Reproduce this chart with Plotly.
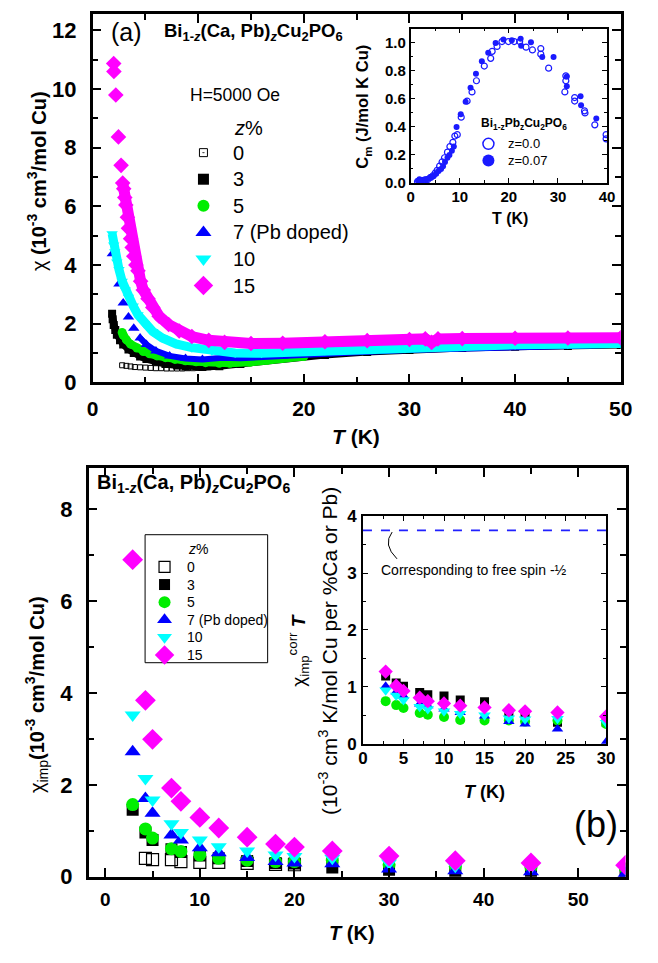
import plotly.graph_objects as go

FONT = "Liberation Sans"

# ---------------- Panel (a): chi(T), H = 5000 Oe ----------------
T_a0 = [2.8, 3.2, 3.6, 4.0, 4.5, 5.0, 5.5, 6.0, 6.5, 7.0, 7.5, 8.0, 8.5, 9.0, 9.5, 10.0, 10.5, 11.0, 11.5, 12.0]
chi_a0 = [0.58, 0.56, 0.54, 0.52, 0.51, 0.50, 0.49, 0.48, 0.48, 0.47, 0.47, 0.47, 0.47, 0.48, 0.48, 0.49, 0.50, 0.51, 0.53, 0.55]

T_a3 = [1.85, 1.9, 2.0, 2.15, 2.3, 2.6, 2.9, 3.4, 3.9, 4.5, 5.1, 6.0, 6.9, 8.0, 8.8, 10.4, 12.0, 14.0, 17.6, 22.0, 26.0, 30.0, 35.0, 40.0, 45.0, 50.0]
chi_a3 = [2.34, 2.15, 1.95, 1.78, 1.62, 1.43, 1.29, 1.12, 1.00, 0.88, 0.79, 0.70, 0.62, 0.57, 0.54, 0.52, 0.55, 0.62, 0.80, 0.93, 1.03, 1.10, 1.17, 1.21, 1.24, 1.27]

T_a5 = [2.8, 2.9, 3.2, 3.6, 4.2, 4.8, 5.4, 6.1, 6.9, 7.8, 8.8, 9.8, 10.7, 12.0, 13.0, 14.9, 16.5, 18.0, 20.0]
chi_a5 = [1.70, 1.60, 1.45, 1.30, 1.17, 1.05, 0.97, 0.90, 0.84, 0.78, 0.73, 0.70, 0.67, 0.65, 0.65, 0.68, 0.75, 0.83, 0.88]

T_a7 = [1.87, 2.5, 2.9, 3.4, 3.9, 4.5, 5.1, 6.0, 7.3, 8.8, 10.4, 12.3, 14.0, 18.0, 22.5, 26.0, 30.0, 32.0, 35.0, 40.0, 43.5, 50.0]
chi_a7 = [4.38, 3.35, 2.70, 2.23, 1.84, 1.51, 1.29, 1.07, 0.90, 0.81, 0.78, 0.84, 0.82, 0.90, 1.00, 1.04, 1.10, 1.12, 1.17, 1.21, 1.25, 1.28]

T_a10 = [1.85, 2.0, 2.1, 2.3, 2.5, 2.8, 3.1, 3.4, 3.85, 4.3, 4.9, 5.7, 6.6, 7.9, 9.4, 11.3, 13.5, 16.0, 18.0, 22.0, 26.0, 30.0, 32.0, 35.0, 40.0, 45.0, 50.0]
chi_a10 = [5.07, 4.68, 4.45, 4.10, 3.85, 3.45, 3.15, 2.90, 2.60, 2.30, 2.00, 1.73, 1.51, 1.31, 1.18, 1.07, 1.00, 0.99, 1.02, 1.08, 1.14, 1.20, 1.22, 1.25, 1.28, 1.30, 1.32]

T_a15 = [2.0, 2.02, 2.2, 2.45, 2.7, 2.85, 2.95, 3.05, 3.15, 3.3, 3.4, 3.6, 3.75, 3.9, 4.1, 4.3, 4.55, 4.8, 5.25, 5.7, 6.3, 7.2, 8.2, 9.4, 11.0, 12.5, 15.0, 18.0, 22.0, 26.0, 30.0, 31.5, 32.1, 32.7, 35.0, 40.0, 45.0, 50.0]
chi_a15 = [10.87, 10.6, 9.8, 8.37, 7.4, 6.8, 6.6, 6.3, 6.05, 5.63, 5.25, 4.9, 4.6, 4.3, 4.0, 3.8, 3.45, 3.15, 2.85, 2.55, 2.25, 1.97, 1.75, 1.56, 1.43, 1.36, 1.32, 1.33, 1.38, 1.42, 1.46, 1.48, 1.36, 1.48, 1.49, 1.50, 1.51, 1.52]

# ---------------- Inset (a): magnetic specific heat ----------------
T_c0 = [1.4, 2.0, 2.5, 2.8, 3.0, 3.5, 4.1, 4.5, 5.0, 5.4, 5.9, 6.4, 6.9, 7.5, 8.0, 8.6, 9.0, 9.5, 10.3, 11.5, 12.5, 13.4, 15.0, 16.3, 16.6, 17.6, 18.6, 19.9, 21.1, 22.2, 23.5, 24.8, 26.5, 26.5, 28.1, 31.6, 31.6, 31.4, 33.4, 33.4, 35.4, 35.5, 37.5, 39.8, 39.8]
C_c0 = [0.01, 0.01, 0.015, 0.02, 0.02, 0.025, 0.04, 0.05, 0.07, 0.09, 0.12, 0.15, 0.18, 0.22, 0.26, 0.29, 0.335, 0.345, 0.47, 0.585, 0.65, 0.73, 0.835, 0.89, 0.94, 0.975, 1.01, 1.01, 1.01, 1.01, 0.97, 0.95, 0.96, 0.92, 0.82, 0.765, 0.73, 0.65, 0.61, 0.585, 0.515, 0.50, 0.415, 0.345, 0.315]

T_c7 = [1.5, 1.8, 2.0, 2.5, 3.0, 3.5, 4.0, 4.7, 5.2, 5.7, 6.2, 6.6, 7.0, 7.5, 7.9, 8.4, 8.8, 9.35, 10.2, 11.2, 12.2, 13.3, 14.5, 15.8, 17.3, 18.9, 20.6, 22.4, 22.5, 24.5, 26.8, 29.1, 31.8, 31.8, 34.6, 34.7, 37.8]
C_c7 = [0.015, 0.026, 0.02, 0.02, 0.025, 0.03, 0.04, 0.05, 0.065, 0.085, 0.10, 0.12, 0.15, 0.18, 0.20, 0.23, 0.26, 0.40, 0.49, 0.58, 0.68, 0.78, 0.87, 0.93, 1.00, 1.025, 1.02, 1.03, 0.98, 1.005, 0.90, 0.90, 0.76, 0.69, 0.62, 0.555, 0.46]

# ---------------- Panel (b): chi_imp(T) ----------------
T_b0 = [4.25, 5.0, 7.0, 8.0, 10.0, 12.0, 15.0, 18.0, 20.0]
chi_b0 = [0.40, 0.37, 0.37, 0.33, 0.31, 0.31, 0.29, 0.27, 0.26]
T_b = [2.9, 4.25, 5.0, 7.0, 8.0, 10.0, 12.0, 15.0, 18.0, 20.0, 24.0, 30.0, 37.0, 45.0, 55.0]
chi_b3 = [1.46, 0.96, 0.80, 0.60, 0.54, 0.46, 0.40, 0.34, 0.30, 0.29, 0.20, 0.15, 0.12, 0.10, 0.08]
chi_b5 = [1.57, 1.04, 0.84, 0.61, 0.55, 0.47, 0.40, 0.36, 0.33, 0.33, 0.36, 0.26, 0.22, 0.20, 0.17]
chi_b7 = [2.72, 1.70, 1.38, 0.91, 0.80, 0.63, 0.52, 0.42, 0.33, 0.30, 0.28, 0.17, 0.13, 0.11, 0.07]
chi_b10 = [3.52, 2.14, 1.67, 1.15, 0.96, 0.80, 0.65, 0.56, 0.47, 0.44, 0.40, 0.30, 0.23, 0.20, 0.18]
chi_b15 = [6.90, 3.84, 2.99, 1.93, 1.64, 1.29, 1.06, 0.86, 0.71, 0.645, 0.56, 0.45, 0.35, 0.30, 0.25]

# ---------------- Inset (b): chi_imp^corr * T ----------------
T_i = [2.8, 4.1, 5.0, 7.0, 8.0, 10.0, 12.0, 15.0, 18.0, 20.0, 24.0, 30.0]
cT_3 = [1.19, 1.07, 1.01, 0.90, 0.86, 0.84, 0.77, 0.74, 0.55, 0.53, 0.38, 0.38]
cT_5 = [0.75, 0.68, 0.63, 0.54, 0.51, 0.47, 0.42, 0.41, 0.41, 0.39, 0.41, 0.35]
cT_7 = [1.01, 0.91, 0.84, 0.70, 0.67, 0.61, 0.55, 0.49, 0.39, 0.35, 0.26, 0.03]
cT_10 = [0.94, 0.85, 0.77, 0.65, 0.61, 0.57, 0.53, 0.50, 0.45, 0.43, 0.44, 0.37]
cT_15 = [1.27, 1.02, 0.93, 0.81, 0.75, 0.71, 0.67, 0.64, 0.59, 0.57, 0.55, 0.48]
FREE_SPIN = 3.75

labels = ["0", "3", "5", "7 (Pb doped)", "10", "15"]
inset_labels = ["z=0.0", "z=0.07"]
colors = ["black", "black", "#00ee00", "#0000ff", "#00ffff", "#ff00ff"]
symbols = ["square-open", "square", "circle", "triangle-up", "triangle-down", "diamond"]
CBLUE = "#1a1aff"

W, H = 658, 963
def px(x):
    return x / W
def py(y):
    return 1 - y / H

fig = go.Figure()

# ---- panel (a) ----
a_sets = [(T_a3, chi_a3, 1, 7, 8, 0), (T_a5, chi_a5, 2, 8, 9, 0), (T_a7, chi_a7, 3, 6, 10, 5),
          (T_a10, chi_a10, 4, 9, 10, 0), (T_a15, chi_a15, 5, 11, 12, 5)]
fig.add_trace(go.Scatter(x=T_a0, y=chi_a0, mode="markers", xaxis="x", yaxis="y", showlegend=False,
                         marker=dict(symbol="square-open", size=5, color="black", line=dict(width=1))))
for T, c, k, lw, ms, start in a_sets:
    fig.add_trace(go.Scatter(x=T[start:], y=c[start:], mode="lines", xaxis="x", yaxis="y", showlegend=False,
                             line=dict(color=colors[k], width=lw), hoverinfo="skip"))
    fig.add_trace(go.Scatter(x=T, y=c, mode="markers", xaxis="x", yaxis="y", showlegend=False,
                             marker=dict(symbol=symbols[k], size=ms, color=colors[k], line=dict(width=0))))

# ---- inset (a) ----
fig.add_trace(go.Scatter(x=T_c0, y=C_c0, mode="markers", xaxis="x3", yaxis="y3", showlegend=False,
                         marker=dict(symbol="circle-open", size=6, color=CBLUE, line=dict(width=1.2))))
fig.add_trace(go.Scatter(x=T_c7, y=C_c7, mode="markers", xaxis="x3", yaxis="y3", showlegend=False,
                         marker=dict(symbol="circle", size=6, color=CBLUE)))

# ---- panel (b) ----
b_series = [(T_b0, chi_b0), (T_b, chi_b3), (T_b, chi_b5), (T_b, chi_b7), (T_b, chi_b10), (T_b, chi_b15)]
b_sizes = [12, 12, 13, 14, 14, 16]
for k, (T, c) in enumerate(b_series):
    m = dict(symbol=symbols[k], size=b_sizes[k], color=colors[k], line=dict(width=0))
    if k == 0:
        m = dict(symbol="square-open", size=12, color="black", line=dict(width=1.2))
    fig.add_trace(go.Scatter(x=T, y=c, mode="markers", xaxis="x2", yaxis="y2", showlegend=False, marker=m))

# ---- inset (b) ----
for j, c in enumerate([cT_3, cT_5, cT_7, cT_10, cT_15]):
    k = j + 1
    fig.add_trace(go.Scatter(x=T_i, y=c, mode="markers", xaxis="x4", yaxis="y4", showlegend=False,
                             marker=dict(symbol=symbols[k], size=[9, 10, 10, 11, 11][j], color=colors[k], line=dict(width=0))))

# ---- legends: drawn on a hidden overlay axis in page pixels ----
ann = []
def A(text, x, y, size, angle=0, xanchor="center", yanchor="middle"):
    ann.append(dict(text=text, x=px(x), y=py(y), xref="paper", yref="paper", showarrow=False, textangle=angle,
                    xanchor=xanchor, yanchor=yanchor, font=dict(family=FONT, size=size, color="black")))

def legend_block(names, syms, cols, sizes, mx, lx, y0, dy, fs, open_line=1.2):
    for k, name in enumerate(names):
        yk = y0 + dy * k
        s = syms[k]
        m = dict(symbol=s, size=sizes[k], color=cols[k], line=dict(width=0))
        if s.endswith("open") or s.endswith("-dot"):
            m = dict(symbol=s, size=sizes[k], color=cols[k], line=dict(width=open_line, color=cols[k]))
        fig.add_trace(go.Scatter(x=[mx], y=[yk], mode="markers", xaxis="x5", yaxis="y5",
                                 showlegend=False, hoverinfo="skip", marker=m, cliponaxis=False))
        A(name, lx, yk, fs, xanchor="left")

leg_syms_a = ["square-open-dot"] + symbols[1:]
legend_block(labels, leg_syms_a, colors, [8, 11, 12, 14, 14, 15], 203, 231, 147, 27.2, 20, open_line=1)
legend_block(labels, symbols, colors, [11, 11, 12, 13, 13, 15], 163, 184, 571, 18, 14)
legend_block(inset_labels, ["circle-open", "circle"], [CBLUE, CBLUE], [11, 12], 496, 514, 138, 17, 13, open_line=1.5)

def axis(domain, rng, dtick, mdtick, fs, lw=2.5, tl=9, mtl=6, fmt=None, standoff=6, anchor=None):
    d = dict(domain=domain, range=rng, dtick=dtick, tick0=0, showline=True, linecolor="black", linewidth=lw,
             mirror="allticks", ticks="inside", ticklen=tl, tickwidth=lw * 0.8, tickcolor="black",
             showgrid=False, zeroline=False, fixedrange=True,
             tickfont=dict(family=FONT, size=fs, color="black", weight="bold"),
             minor=dict(ticks="inside", ticklen=mtl, tickwidth=lw * 0.7, tickcolor="black", dtick=mdtick, tick0=0, showgrid=False),
             ticklabelstandoff=standoff)
    if fmt:
        d["tickformat"] = fmt
    if anchor:
        d["anchor"] = anchor
    return d

TOP_A = 5.5  # page-pixel top of panel (a) frame
fig.update_layout(
    width=W, height=H, margin=dict(l=0, r=0, t=0, b=0),
    paper_bgcolor="white", plot_bgcolor="rgba(0,0,0,0)", showlegend=False,
    font=dict(family=FONT, color="black"),
    xaxis=axis([px(89), px(632)], [0, 50], 10, 5, 21, standoff=6, anchor="y"),
    yaxis=axis([py(382), py(TOP_A)], [0, (382 - TOP_A) / 30.0], 2, 1, 22, standoff=9, anchor="x"),
    xaxis2=axis([px(85), px(637)], [-1.75, 55.0], 10, 5, 19, standoff=4, anchor="y2"),
    yaxis2=axis([py(888), py(470)], [0, 8.89], 2, 1, 22, standoff=9, anchor="x2"),
    xaxis3=axis([px(416), px(618)], [0, 40], 10, 5, 15, lw=1.6, tl=5, mtl=3, standoff=-1, anchor="y3"),
    yaxis3=axis([py(178), py(20)], [0, 1.103], 0.2, 0.1, 15, lw=1.6, tl=5, mtl=3, fmt=".1f", standoff=0, anchor="x3"),
    xaxis4=axis([px(367), px(617)], [0, 30], 5, 2.5, 17, lw=1.6, tl=5, mtl=3, standoff=-2, anchor="y4"),
    yaxis4=axis([py(752), py(519)], [0, 4], 1, 0.5, 17, lw=1.6, tl=5, mtl=3, standoff=1, anchor="x4"),
    xaxis5=dict(domain=[0, 1], range=[0, W], visible=False, fixedrange=True, anchor="y5"),
    yaxis5=dict(domain=[0, 1], range=[H, 0], visible=False, fixedrange=True, anchor="x5"),
)

# panel (a) texts
A("(a)", 124, 24, 25)
A("<b>Bi<sub>1-<i>z</i></sub>(Ca, Pb)<sub><i>z</i></sub>Cu<sub>2</sub>PO<sub>6</sub></b>", 160, 24, 18.5, xanchor="left")
A("H=5000 Oe", 187, 88, 17.5, xanchor="left")
A("<i>z</i>%", 232, 122, 20, xanchor="left")
A("χ <b>(10<sup>-3</sup> cm<sup>3</sup>/mol Cu)</b>", 32, 176, 20, angle=-90)
A("<b><i>T</i> (K)</b>", 360, 437, 21)
# inset (a) texts
A("<b>C<sub>m</sub> (J/mol K Cu)</b>", 367, 100, 16.5, angle=-90)
A("<b>T (K)</b>", 518, 214, 16)
A("<b>Bi<sub>1-z</sub>Pb<sub>z</sub>Cu<sub>2</sub>PO<sub>6</sub></b>", 486, 118, 12, xanchor="left")
# panel (b) texts
A("<b>Bi<sub>1-<i>z</i></sub>(Ca, Pb)<sub><i>z</i></sub>Cu<sub>2</sub>PO<sub>6</sub></b>", 92, 486, 20, xanchor="left")
A("χ<sub>imp</sub><b>(10<sup>-3</sup> cm<sup>3</sup>/mol Cu)</b>", 32, 702, 20, angle=-90)
A("<b><i>T</i> (K)</b>", 356, 946, 20)
A("(b)", 607, 835, 36)
A("<i>z</i>%", 185, 553, 14, xanchor="left")
# inset (b) texts
A("χ<sub>imp</sub><sup>corr</sup> <b><i>T</i></b>", 300, 656, 19, angle=-90)
A("(10<sup>-3</sup> cm<sup>3</sup> K/mol Cu per %Ca or Pb)", 331, 657, 21, angle=-90)
A("<b><i>T</i> (K)</b>", 492, 801, 18)
A("Corresponding to free spin -½", 383, 574, 14, xanchor="left")

fig.update_layout(annotations=ann)

# legend (b) frame
fig.add_shape(type="rect", xref="paper", yref="paper", x0=px(143), x1=px(269), y0=py(669), y1=py(538),
              line=dict(color="black", width=1), fillcolor="white", layer="below")
fig.add_shape(type="line", xref="x4 domain", yref="y4", x0=0, x1=1, y0=FREE_SPIN, y1=FREE_SPIN,
              line=dict(color="#2020ff", width=1.6, dash="dash"))
fig.add_shape(type="path", xref="x4", yref="y4", path="M 4.2,3.25 Q 2.4,3.5 3.6,3.72",
              line=dict(color="black", width=1))

fig.write_html("out.html", config={"displayModeBar": False},
               post_script="document.body.style.margin='0px';")
